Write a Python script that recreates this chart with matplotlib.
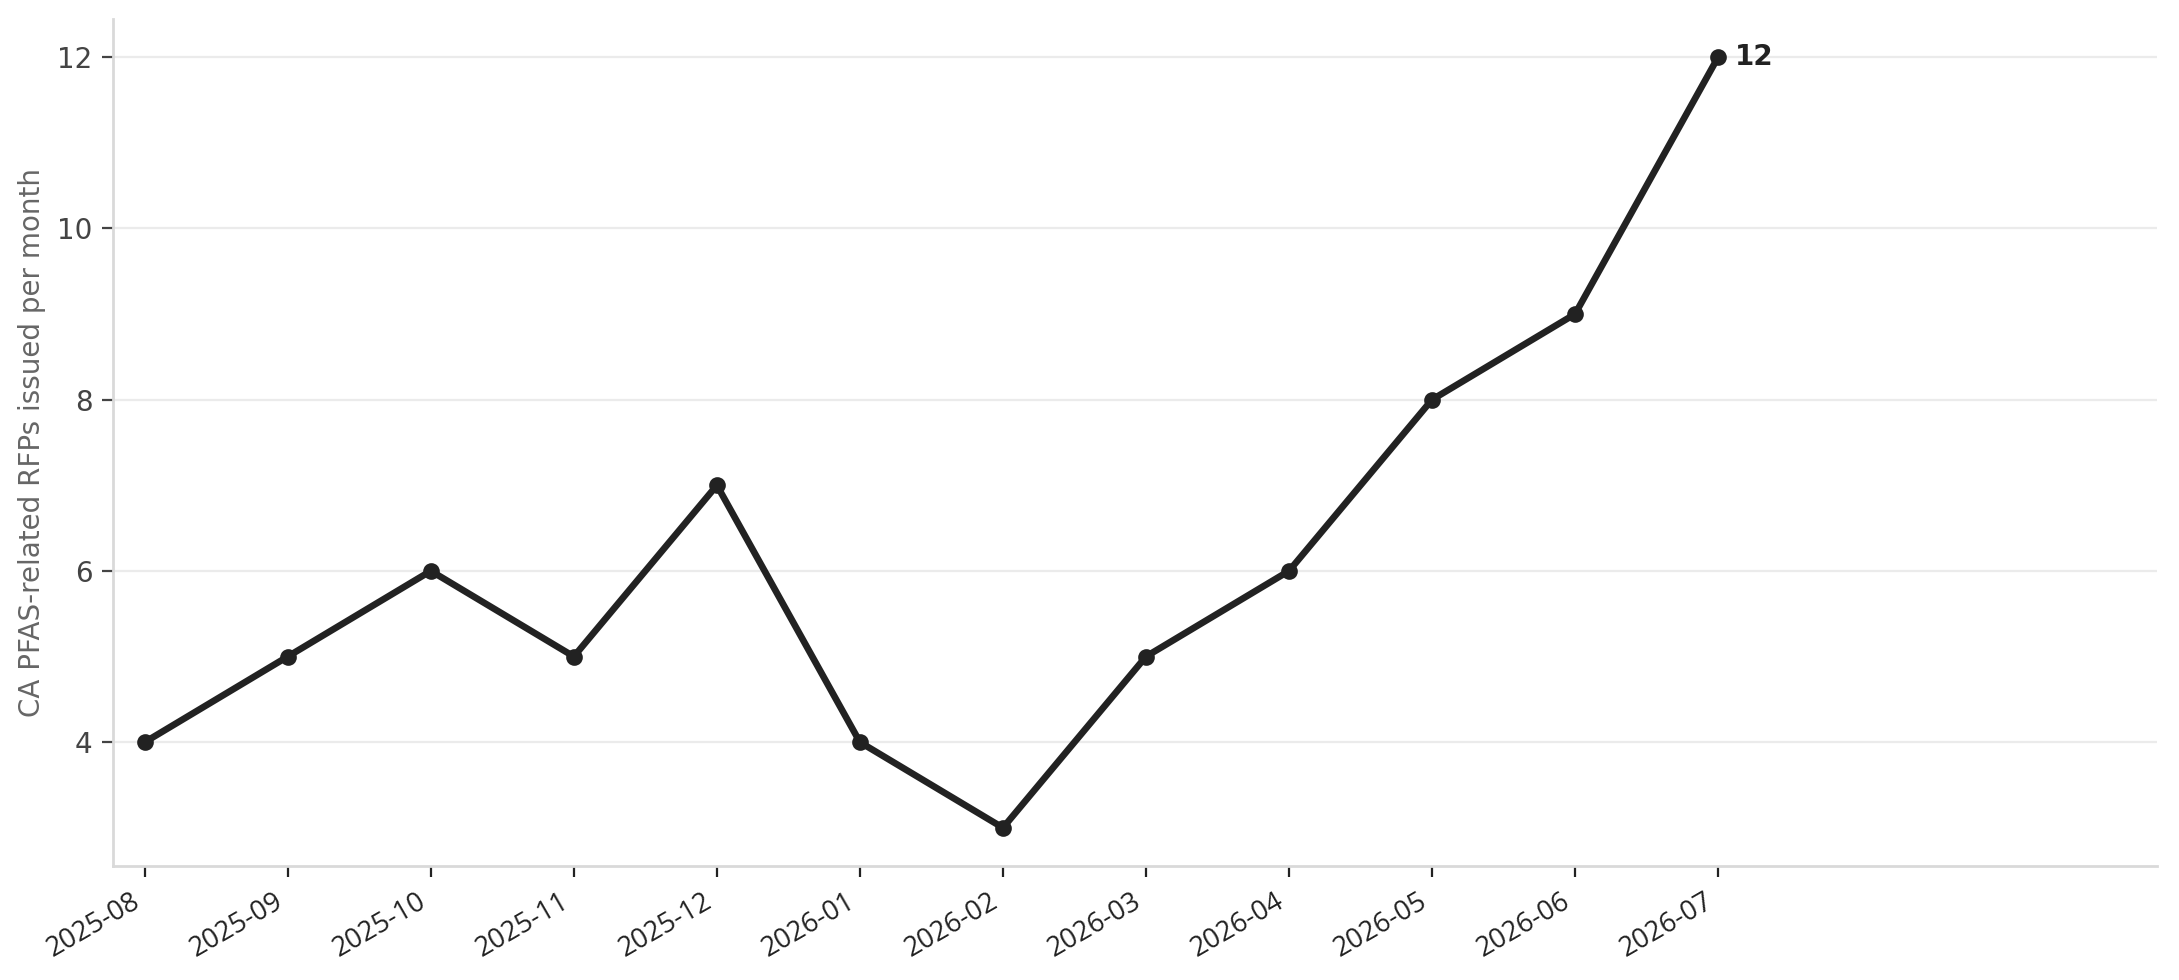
import matplotlib
matplotlib.use("Agg")
import matplotlib.pyplot as plt

# Monthly counts of CA PFAS-related RFPs
months = ["2025-08", "2025-09", "2025-10", "2025-11", "2025-12", "2026-01",
          "2026-02", "2026-03", "2026-04", "2026-05", "2026-06", "2026-07"]
rfp_counts = [4, 5, 6, 5, 7, 4, 3, 5, 6, 8, 9, 12]
y_ticks = [4, 6, 8, 10, 12]

fig, ax = plt.subplots(figsize=(10.895, 4.9), dpi=200)
fig.subplots_adjust(left=0.052, right=0.990, top=0.981, bottom=0.116)

x = list(range(len(months)))
ax.plot(x, rfp_counts, color="#222222", linewidth=2.4, marker="o",
        markersize=5, solid_capstyle="round", zorder=3)

# label the latest value
ax.annotate(str(rfp_counts[-1]), xy=(x[-1], rfp_counts[-1]),
            xytext=(6, 0), textcoords="offset points",
            ha="left", va="center", fontsize=10, fontweight="bold",
            color="#222222")

ax.set_xlim(-0.22, 14.07)
ax.set_ylim(2.55, 12.45)
ax.set_yticks(y_ticks)
ax.set_xticks(x)
ax.set_xticklabels(months, rotation=30, ha="right", fontsize=9.8,
                   family="Open Sans", color="#222222")
ax.tick_params(axis="y", labelsize=10, labelcolor="#444444", color="#444444",
               length=4, width=0.8)
ax.tick_params(axis="x", color="#222222", length=4, width=0.8)

ax.set_ylabel("CA PFAS-related RFPs issued per month", fontsize=10,
              color="#666666")

ax.grid(axis="y", color="#ebebeb", linewidth=0.8)
ax.set_axisbelow(True)
for side in ["top", "right"]:
    ax.spines[side].set_visible(False)
for side in ["left", "bottom"]:
    ax.spines[side].set_color("#d9d9d9")
    ax.spines[side].set_linewidth(1.0)

fig.savefig("out.png", dpi=200)
